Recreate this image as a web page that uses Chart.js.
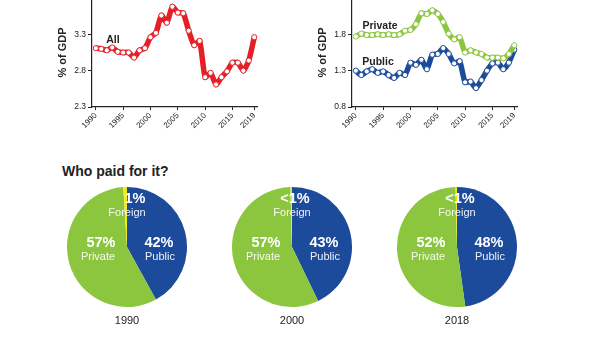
<!DOCTYPE html>
<html>
<head>
<meta charset="utf-8">
<script src="https://cdn.jsdelivr.net/npm/chart.js@4.4.1/dist/chart.umd.min.js"></script>
<style>
  html, body { margin: 0; padding: 0; background: #fff; }
  body {
    width: 590px; height: 354px; position: relative; overflow: hidden;
    font-family: "Liberation Sans", Arial, sans-serif; color: #222;
  }
  .box { position: absolute; }
  .lbl { position: absolute; transform: translate(-50%, -50%); white-space: nowrap; line-height: 1; }
  .series { font-weight: bold; font-size: 10.5px; color: #222; }
  .pct { font-weight: bold; font-size: 14.5px; color: #fff; }
  .word { font-size: 11px; color: rgba(255,255,255,0.92); }
  .year { font-size: 11px; color: #222; }
  h2 { position: absolute; left: 62px; top: 163px; margin: 0; font-size: 14px; font-weight: bold; color: #222; }
</style>
</head>
<body>

<div class="box" style="left:0;top:-20px;width:280px;height:157px"><canvas id="allChart"></canvas></div>
<div class="box" style="left:260px;top:-20px;width:280px;height:157px"><canvas id="splitChart"></canvas></div>

<div class="lbl series" style="left:113px;top:39px">All</div>
<div class="lbl series" style="left:380px;top:25px">Private</div>
<div class="lbl series" style="left:378px;top:61px">Public</div>

<h2>Who paid for it?</h2>

<div class="box" style="left:67px;top:187px;width:120px;height:120px"><canvas id="pie0"></canvas></div>
<div class="box" style="left:232px;top:187px;width:120px;height:120px"><canvas id="pie1"></canvas></div>
<div class="box" style="left:397px;top:187px;width:120px;height:120px"><canvas id="pie2"></canvas></div>

<div id="pieText"></div>

<script>
// ── data ──────────────────────────────────────────────────────
const years = [1990, 1991, 1992, 1993, 1994, 1995, 1996, 1997, 1998, 1999,
               2000, 2001, 2002, 2003, 2004, 2005, 2006, 2007, 2008, 2009,
               2010, 2011, 2012, 2013, 2014, 2015, 2016, 2017, 2018, 2019];
const xTicks = [1990, 1995, 2000, 2005, 2010, 2015, 2019];

// total R&D spend, % of GDP
const allSpend = [3.11, 3.10, 3.08, 3.12, 3.06, 3.05, 3.05, 2.98, 3.08, 3.11,
                  3.26, 3.32, 3.56, 3.46, 3.68, 3.60, 3.59, 3.35, 3.15, 3.21,
                  2.71, 2.77, 2.61, 2.71, 2.79, 2.91, 2.91, 2.80, 2.94, 3.26];
const privateSpend = [1.77, 1.81, 1.79, 1.79, 1.80, 1.79, 1.80, 1.79, 1.80, 1.85,
                      1.86, 1.94, 2.09, 2.08, 2.13, 2.08, 1.97, 1.81, 1.73, 1.76,
                      1.55, 1.58, 1.55, 1.53, 1.48, 1.48, 1.48, 1.47, 1.53, 1.65];
const publicSpend = [1.30, 1.24, 1.29, 1.32, 1.27, 1.29, 1.24, 1.20, 1.27, 1.24,
                     1.41, 1.38, 1.45, 1.32, 1.52, 1.53, 1.61, 1.53, 1.40, 1.43,
                     1.14, 1.15, 1.06, 1.17, 1.30, 1.40, 1.41, 1.32, 1.41, 1.59];
const allTicks = [2.3, 2.8, 3.3, 3.8];
const splitTicks = [0.8, 1.3, 1.8, 2.3];

// who paid for it (shares of total)
const pieYears = ['1990', '2000', '2018'];
const publicShare = [42, 43, 48];
const privateShare = [57, 57, 52];
const foreignShare = [1, 0.4, 0.4];
const publicText = ['42%', '43%', '48%'];
const privateText = ['57%', '57%', '52%'];
const foreignText = ['1%', '<1%', '<1%'];

const RED = '#e41f26', GREEN = '#8cc63f', BLUE = '#1d4b9b', YELLOW = '#f5ea14';
const FONT = '"Liberation Sans", Arial, sans-serif';

// ── line charts ───────────────────────────────────────────────
function series(values, color) {
    return {
        data: years.map((x, i) => ({ x: x, y: values[i] })),
        borderColor: color,
        borderWidth: 5.5,
        tension: 0.2,
        pointRadius: 2.6,
        pointBackgroundColor: '#fff',
        pointBorderColor: color,
        pointBorderWidth: 1,
        clip: false,
    };
}

function lineChart(id, datasets, yTicks) {
    return new Chart(document.getElementById(id), {
        type: 'line',
        data: { datasets },
        options: {
            responsive: true,
            maintainAspectRatio: false,
            animation: false,
            layout: { padding: { left: 52, top: 18, right: 23, bottom: 0 } },
            plugins: { legend: { display: false }, tooltip: { enabled: false } },
            scales: {
                x: {
                    type: 'linear', min: 1989.3, max: 2019.5,
                    afterBuildTicks: s => { s.ticks = xTicks.map(v => ({ value: v })); },
                    afterFit: s => { s.height = 30; },
                    ticks: {
                        autoSkip: false, maxRotation: 45, minRotation: 45, padding: 1,
                        color: '#222', font: { size: 8, family: FONT },
                        callback: v => String(v),
                    },
                    grid: { drawOnChartArea: false, tickLength: 3, color: '#222' },
                    border: { color: '#222', width: 1.2 },
                },
                y: {
                    min: yTicks[0], max: yTicks[yTicks.length - 1],
                    afterBuildTicks: s => { s.ticks = yTicks.map(v => ({ value: v })); },
                    afterFit: s => { s.width = 40; },
                    ticks: {
                        padding: 2, color: '#222', font: { size: 8.5, family: FONT },
                        callback: v => Number(v).toFixed(1),
                    },
                    grid: { drawOnChartArea: false, tickLength: 4, color: '#222' },
                    border: { color: '#222', width: 1.2 },
                    title: {
                        display: true, text: '% of GDP', color: '#222',
                        font: { size: 11, weight: 'bold', family: FONT },
                        padding: { top: 4, bottom: 0 },
                    },
                },
            },
        },
    });
}

lineChart('allChart', [series(allSpend, RED)], allTicks);
lineChart('splitChart', [series(privateSpend, GREEN), series(publicSpend, BLUE)], splitTicks);

// ── pies ──────────────────────────────────────────────────────
pieYears.forEach(function (yr, i) {
    new Chart(document.getElementById('pie' + i), {
        type: 'pie',
        data: {
            labels: ['Public', 'Private', 'Foreign'],
            datasets: [{
                data: [publicShare[i], privateShare[i], foreignShare[i]],
                backgroundColor: [BLUE, GREEN, YELLOW],
                borderWidth: 0,
                hoverOffset: 0,
            }],
        },
        options: {
            responsive: true,
            maintainAspectRatio: false,
            animation: false,
            layout: { padding: 0 },
            plugins: { legend: { display: false }, tooltip: { enabled: false } },
        },
    });
});

// pie text, placed relative to each pie centre
const pieCentres = [127, 292, 457];
const holder = document.getElementById('pieText');
function addLabel(cls, text, x, y) {
    const el = document.createElement('div');
    el.className = 'lbl ' + cls;
    el.textContent = text;
    el.style.left = x + 'px';
    el.style.top = y + 'px';
    holder.appendChild(el);
}
pieYears.forEach(function (yr, i) {
    const cx = pieCentres[i];
    addLabel('pct', foreignText[i], cx + (i === 0 ? 8 : 3), 198);
    addLabel('word', 'Foreign', cx, 212);
    addLabel('pct', privateText[i], cx - 26, 241.5);
    addLabel('word', 'Private', cx - 29, 256);
    addLabel('pct', publicText[i], cx + 32, 241.5);
    addLabel('word', 'Public', cx + 33, 256);
    addLabel('year', yr, cx, 320);
});
</script>
</body>
</html>
